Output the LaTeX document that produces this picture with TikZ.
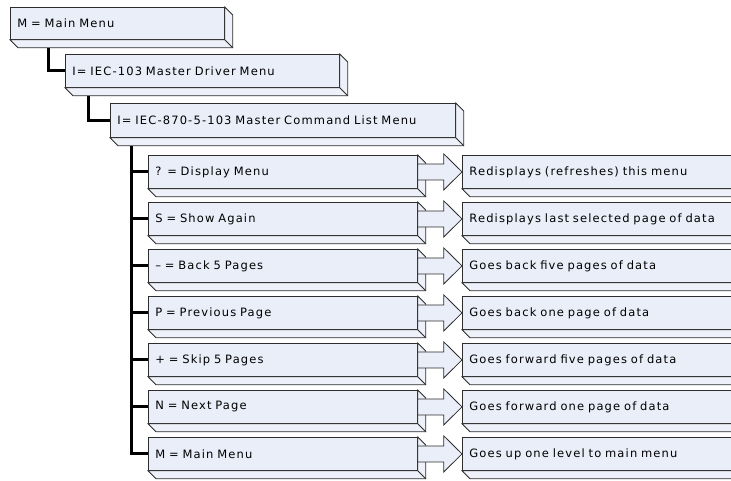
\documentclass[tikz,border=0pt]{standalone}
\usepackage{fontspec}
\setmainfont{DejaVu Sans}
\newfontfamily\menufont[LetterSpace=10]{DejaVu Sans}
\definecolor{front}{RGB}{233,238,248}
\definecolor{face}{RGB}{238,241,249}
\definecolor{edge}{RGB}{45,45,45}
% side and bottom faces of a menu slab
\newcommand\slab[1]{%
  \draw [facebox] (#1.south west) -- ([shift={(8bp,-8bp)}]#1.south west)
    -- ([shift={(8bp,-8bp)}]#1.south east) -- ([shift={(8bp,-8bp)}]#1.north east)
    -- (#1.north east) -- (#1.south east) -- cycle;
  \draw [facebox] (#1.south east) -- ([shift={(8bp,-8bp)}]#1.south east);
}
% block arrow from a command to its description
\newcommand\flow[2]{%
  \draw [flowarrow] ([yshift=8bp]#1.east) -- ++(26bp,0) -- ++(0,10bp) -- (#2.west)
    -- ([shift={(26bp,-18bp)}]#1.east) -- ++(0,10bp) -- ([yshift=-8bp]#1.east) -- cycle;
}
\begin{document}
\begin{tikzpicture}[line join=miter,
    box/.style={draw=edge,fill=front,line width=.8bp,anchor=north west,
      inner xsep=7bp,inner ysep=0pt,align=left,
      font=\menufont\fontsize{11.5bp}{13bp}\selectfont},
    cmd/.style={box,text width=255bp,minimum height=33bp},
    desc/.style={box,text width=276bp,minimum height=33bp},
    facebox/.style={draw=edge,fill=face,line width=.8bp},
    flowarrow/.style={draw=edge,fill=front,line width=.8bp},
    conn/.style={line width=3bp,black},
  ]
    \useasboundingbox (0,0) rectangle (731bp,-481bp);
    \clip (0,0) rectangle (731bp,-481bp);
    %%
    \node (m1) at (10bp,-7bp) [box,text width=200bp,minimum height=32bp] {M = Main Menu};
    \node (m2) at (65bp,-54bp) [box,text width=260bp,minimum height=33bp] {I= IEC-103 Master Driver Menu};
    \node (m3) at (110bp,-103bp) [box,text width=331bp,minimum height=34bp] {I= IEC-870-5-103 Master Command List Menu};
    \node (c1) at (148bp,-155bp) [cmd] {? = Display Menu};
    \node (c2) at (148bp,-202bp) [cmd] {S = Show Again};
    \node (c3) at (148bp,-249bp) [cmd] {– = Back 5 Pages};
    \node (c4) at (148bp,-296bp) [cmd] {P = Previous Page};
    \node (c5) at (148bp,-343bp) [cmd] {+ = Skip 5 Pages};
    \node (c6) at (148bp,-390bp) [cmd] {N = Next Page};
    \node (c7) at (148bp,-437bp) [cmd] {M = Main Menu};
    \node (d1) at (462bp,-155bp) [desc] {Redisplays (refreshes) this menu};
    \node (d2) at (462bp,-202bp) [desc] {Redisplays last selected page of data};
    \node (d3) at (462bp,-249bp) [desc] {Goes back five pages of data};
    \node (d4) at (462bp,-296bp) [desc] {Goes back one page of data};
    \node (d5) at (462bp,-343bp) [desc] {Goes forward five pages of data};
    \node (d6) at (462bp,-390bp) [desc] {Goes forward one page of data};
    \node (d7) at (462bp,-437bp) [desc] {Goes up one level to main menu};
    %
    \draw [conn] ([xshift=38bp]m1.south west) |- (m2.west);
    \draw [conn] ([xshift=23bp]m2.south west) |- (m3.west);
    \foreach \c in {c1,c2,c3,c4,c5,c6,c7}
      \draw [conn] ([xshift=21bp]m3.south west) |- (\c.west);
    %
    \foreach \n in {m1,m2,m3,c1,c2,c3,c4,c5,c6,c7,d1,d2,d3,d4,d5,d6,d7}
      \slab{\n};
    \flow{c1}{d1}
    \flow{c2}{d2}
    \flow{c3}{d3}
    \flow{c4}{d4}
    \flow{c5}{d5}
    \flow{c6}{d6}
    \flow{c7}{d7}
    %
\end{tikzpicture}
\end{document}
